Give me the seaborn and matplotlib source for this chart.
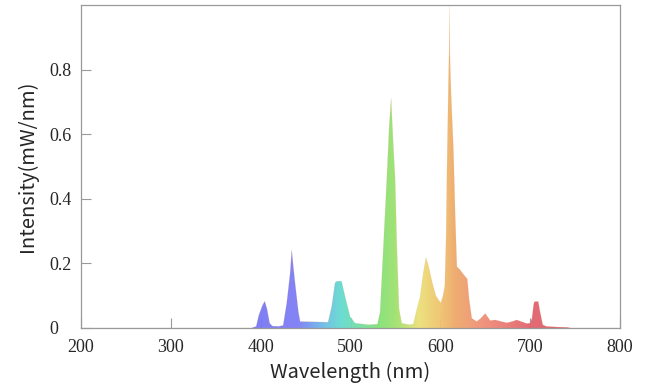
import numpy as np
import seaborn as sns
import matplotlib.pyplot as plt
from matplotlib.colors import LinearSegmentedColormap
from matplotlib.ticker import FuncFormatter

# spectrum (wavelength in nm, intensity in mW/nm)
wavelength = [200, 390, 395, 398, 402, 404.5, 407, 410, 413, 420, 425, 429, 432.8, 434.6,
              436, 438.3, 442, 444, 460, 475, 479, 482.8, 485, 490, 494, 499.6, 505,
              520, 530, 533, 536.6, 540.4, 543, 545.2, 547, 549.7, 551.6, 554, 557,
              565, 570, 574, 577.5, 581, 584, 587, 591, 595, 600.5, 603, 605, 606.5,
              607.3, 609, 610, 610.3, 610.6, 612, 614.6, 616.5, 618.4, 622, 626, 630,
              632, 635, 640.6, 645, 650, 655.5, 661, 668, 674, 680, 685, 690, 696, 700,
              702, 704, 705, 709, 711, 714, 718, 730, 741, 745, 800]
intensity = [0, 0, 0.005, 0.04, 0.07, 0.083, 0.06, 0.015, 0.006, 0.005, 0.008, 0.077, 0.17, 0.242,
             0.2, 0.139, 0.05, 0.02, 0.019, 0.018, 0.066, 0.14, 0.145, 0.145, 0.097, 0.035, 0.015,
             0.01, 0.012, 0.05, 0.25, 0.46, 0.62, 0.712, 0.6, 0.46, 0.25, 0.06, 0.015,
             0.01, 0.012, 0.06, 0.097, 0.17, 0.218, 0.19, 0.14, 0.1, 0.077, 0.1, 0.13, 0.29,
             0.47, 0.75, 0.893, 1.0, 0.85, 0.72, 0.55, 0.35, 0.19, 0.18, 0.165, 0.152,
             0.09, 0.03, 0.02, 0.03, 0.045, 0.023, 0.025, 0.02, 0.016, 0.02, 0.025, 0.02, 0.014, 0.015,
             0.03, 0.075, 0.082, 0.082, 0.05, 0.01, 0.005, 0.003, 0.002, 0, 0]

x_ticks = [200, 300, 400, 500, 600, 700, 800]
y_ticks = [0, 0.2, 0.4, 0.6, 0.8]

# colour of the fill along the wavelength axis
stops = [(390, '#7878f5'), (440, '#7d7df5'), (470, '#6ebee6'), (490, '#64dccd'),
         (530, '#82e178'), (550, '#a0e16e'), (575, '#ebe178'), (600, '#f0c36e'),
         (615, '#eeaa69'), (650, '#f08c78'), (700, '#e1646e'), (750, '#dc5a64')]
lo, hi = stops[0][0], stops[-1][0]
cmap = LinearSegmentedColormap.from_list(
    'spec', [((w - lo) / (hi - lo), c) for w, c in stops])

sns.set_theme(style="white")
plt.rcParams['font.family'] = ['Liberation Serif', 'DejaVu Serif']

fig = plt.figure(figsize=(6.45, 3.83), dpi=100)
ax = fig.add_axes([81 / 645, 1 - 328 / 383, 539 / 645, 323 / 383])

sns.lineplot(x=wavelength, y=intensity, ax=ax, color='#e0a070', linewidth=0.3,
             alpha=0.3, zorder=3)
poly = ax.fill_between(wavelength, intensity, 0, color='none', zorder=2)

grad = np.linspace(0, 1, 400).reshape(1, -1)
img = ax.imshow(grad, extent=[lo, hi, 0, 1], aspect='auto', cmap=cmap, alpha=0.95,
                origin='lower', zorder=2)
img.set_clip_path(poly.get_paths()[0], transform=ax.transData)

ax.set_xlim(200, 800)
ax.set_ylim(0, 1.0)
ax.set_xticks(x_ticks)
ax.set_yticks(y_ticks)
ax.yaxis.set_major_formatter(FuncFormatter(lambda v, p: '0' if v == 0 else f'{v:.1f}'))
ax.tick_params(direction='in', length=7.2, width=0.8, color='#999999', labelsize=13,
               labelfontfamily='Liberation Serif', bottom=True, left=True)
ax.tick_params(axis='x', pad=8)
ax.tick_params(axis='y', pad=23)
for lbl in ax.get_yticklabels():
    lbl.set_horizontalalignment('left')
for sp in ax.spines.values():
    sp.set_color('#999999')
    sp.set_linewidth(0.9)
    sp.set_zorder(5)

ax.set_xlabel('Wavelength (nm)', family=['Noto Sans CJK JP', 'DejaVu Sans'], fontsize=14.5,
              labelpad=4)
ax.set_ylabel('Intensity(mW/nm)', family=['Noto Sans CJK JP', 'DejaVu Sans'], fontsize=14.5,
              labelpad=8)

fig.savefig('out.png', dpi=100)
